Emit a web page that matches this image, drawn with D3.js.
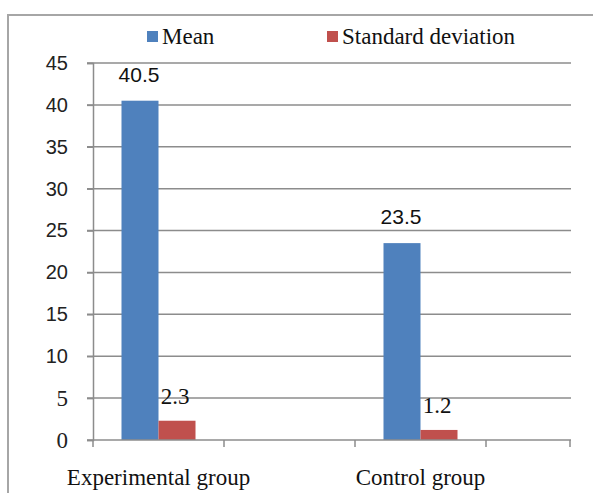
<!DOCTYPE html>
<html>
<head>
<meta charset="utf-8">
<script src="https://cdn.jsdelivr.net/npm/d3@7"></script>
<style>
  html, body { margin: 0; padding: 0; background: #fff; }
  svg { display: block; }
  .serif { font-family: "Liberation Serif", "DejaVu Serif", "Times New Roman", Times, serif; }
  .sans { font-family: "Liberation Sans", Arial, sans-serif; }
</style>
</head>
<body>
<svg id="chart" width="593" height="493"></svg>
<script>
// ---- data ----
const categories = ["Experimental group", "Control group"];
const slots = ["Experimental group", "gap-1", "Control group", "gap-2"];
const seriesNames = ["Mean", "Standard deviation"];
const meanValues = [40.5, 23.5];
const sdValues = [2.3, 1.2];
const meanLabels = ["40.5", "23.5"];
const sdLabels = ["2.3", "1.2"];
const yTicks = [0, 5, 10, 15, 20, 25, 30, 35, 40, 45];
const colors = ["#4F81BD", "#C0504D"];

const svg = d3.select("#chart");

const plotLeft = 93, plotRight = 570, plotTop = 63, plotBottom = 440;

// frame
svg.append("rect")
  .attr("x", 8).attr("y", 15)
  .attr("width", 700).attr("height", 600)
  .attr("fill", "none").attr("stroke", "#a6a6a6").attr("stroke-width", 2);

const y = d3.scaleLinear().domain([0, 45]).range([plotBottom, plotTop]);
const x = d3.scaleBand().domain(slots).range([plotLeft, plotLeft + 4 * 131]).paddingInner(0).paddingOuter(0);
const xs = d3.scaleBand().domain(seriesNames).range([0, x.bandwidth()]).paddingInner(0).paddingOuter(0.77);

// gridlines
svg.append("g").selectAll("line").data(yTicks.filter(d => d > 0)).join("line")
  .attr("x1", plotLeft - 6).attr("x2", plotRight + 1)
  .attr("y1", d => y(d)).attr("y2", d => y(d))
  .attr("stroke", "#8c8c8c").attr("stroke-width", 1.5);

// y axis
const yAxis = d3.axisLeft(y).tickValues(yTicks).tickSize(6).tickPadding(19).tickFormat(d3.format("d"));
const gy = svg.append("g").attr("transform", `translate(${plotLeft},0)`).call(yAxis)
  .attr("font-family", null).attr("font-size", null);
gy.select(".domain").attr("stroke", "#8c8c8c").attr("stroke-width", 1.5);
gy.selectAll(".tick line").attr("stroke", "#8c8c8c").attr("stroke-width", 1.5);
gy.selectAll(".tick text")
  .attr("fill", "#222")
  .attr("class", d => d >= 10 ? "sans" : "serif")
  .style("font-size", d => d >= 10 ? "20px" : "23px");

// bars
const data = categories.map((c, i) => ({ cat: c, vals: [meanValues[i], sdValues[i]], labels: [meanLabels[i], sdLabels[i]] }));
const groups = svg.append("g").selectAll("g").data(data).join("g")
  .attr("transform", d => `translate(${x(d.cat)},0)`);
groups.selectAll("rect").data(d => d.vals.map((v, j) => ({ s: seriesNames[j], v, j }))).join("rect")
  .attr("x", d => xs(d.s))
  .attr("y", d => y(d.v))
  .attr("width", xs.bandwidth())
  .attr("height", d => y(0) - y(d.v))
  .attr("fill", d => colors[d.j]);

// data labels
groups.selectAll("text").data(d => d.vals.map((v, j) => ({ s: seriesNames[j], v, j, lab: d.labels[j] }))).join("text")
  .attr("class", d => d.j === 0 ? "sans" : "serif")
  .attr("x", d => xs(d.s) + xs.bandwidth() / 2 + (d.j === 0 ? -1 : -2))
  .attr("y", d => y(d.v) - (d.j === 0 ? 19 : 17))
  .attr("text-anchor", "middle")
  .style("font-size", d => d.j === 0 ? "21px" : "23px")
  .attr("fill", "#111")
  .text(d => d.lab);

// x axis
const gx = svg.append("g");
gx.append("line")
  .attr("x1", plotLeft - 6).attr("x2", plotRight + 1)
  .attr("y1", y(0)).attr("y2", y(0))
  .attr("stroke", "#8c8c8c").attr("stroke-width", 1.5);
const tickXs = slots.map(s => x(s)).filter(v => v <= plotRight).concat([plotRight]);
gx.selectAll("line.t").data(tickXs).join("line").attr("class", "t")
  .attr("x1", d => d).attr("x2", d => d)
  .attr("y1", y(0)).attr("y2", y(0) + 7)
  .attr("stroke", "#8c8c8c").attr("stroke-width", 1.5);
gx.selectAll("text").data(categories).join("text")
  .attr("class", "serif")
  .attr("x", d => x(d) + x.bandwidth() / 2)
  .attr("y", 485)
  .attr("text-anchor", "middle")
  .style("font-size", "23px")
  .attr("fill", "#111")
  .text(d => d);

// legend
const legendItems = [
  { name: seriesNames[0], sx: 147 },
  { name: seriesNames[1], sx: 327 }
];
const lg = svg.append("g").selectAll("g").data(legendItems).join("g");
lg.append("rect")
  .attr("x", d => d.sx).attr("y", 31).attr("width", 11).attr("height", 11)
  .attr("fill", (d, i) => colors[i]);
lg.append("text")
  .attr("class", "serif")
  .attr("x", d => d.sx + 15).attr("y", 44)
  .style("font-size", "23px")
  .attr("fill", "#111")
  .text(d => d.name);
</script>
</body>
</html>
